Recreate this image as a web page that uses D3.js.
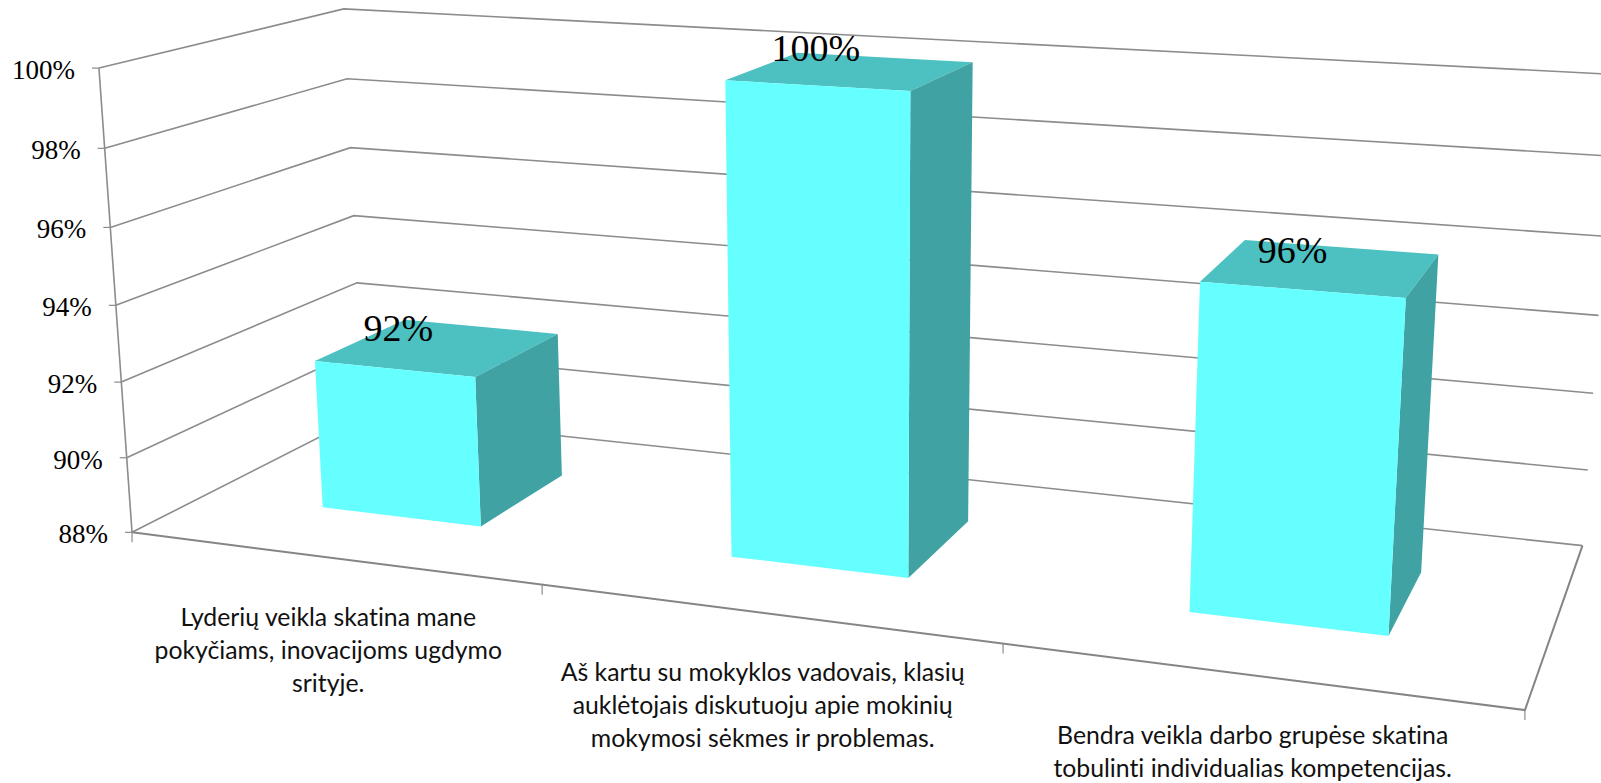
<!DOCTYPE html>
<html>
<head>
<meta charset="utf-8">
<script src="https://cdnjs.cloudflare.com/ajax/libs/d3/7.8.5/d3.min.js"></script>
<style>
    body { margin: 0; background: #fff; overflow: hidden; }
    svg { display: block; }
</style>
</head>
<body>
<script>
// Chart data
var categories = [
    ["Lyderių veikla skatina mane", "pokyčiams, inovacijoms ugdymo", "srityje."],
    ["Aš kartu su mokyklos vadovais, klasių", "auklėtojais diskutuoju apie mokinių", "mokymosi sėkmes ir problemas."],
    ["Bendra veikla darbo grupėse skatina", "tobulinti individualias kompetencijas."]
];
var values = [92, 100, 96];
var valueTicks = [88, 90, 92, 94, 96, 98, 100];

var width = 1601, height = 783;

// Box corners as seen in the picture: [along, depth, value, screenX, screenY]
var cameraRefs = [
    [0, 0, 88, 132, 532], [0, 1, 88, 363, 416], [1, 1, 88, 1582, 545], [1, 0, 88, 1526, 710],
    [0, 0, 100, 98, 69], [0, 1, 100, 344, 8], [1, 1, 100, 1615, 75],
    [0, 0, 94, 117, 305], [0, 1, 94, 354, 215], [1, 1, 94, 1599, 316],
    [1, 1, 92, 1593, 393], [1, 1, 90, 1588, 470],
    [1 / 3, 0, 88, 542, 585], [2 / 3, 0, 88, 1002, 643]
];

var wScale = d3.scaleLinear().domain([88, 100]).range([0, 1]);
var uBand = d3.scaleBand()
    .domain(d3.range(categories.length))
    .range([0, 1])
    .paddingInner(0.6)
    .paddingOuter(0.3);
var vFront = 0.30, vBack = 0.705;

// Least squares fit of the 3D -> screen projective matrix
var solve = function(A, b) {
    var n = b.length;
    for (var i = 0; i < n; i++) {
        var piv = i;
        for (var r = i + 1; r < n; r++) if (Math.abs(A[r][i]) > Math.abs(A[piv][i])) piv = r;
        var tA = A[i]; A[i] = A[piv]; A[piv] = tA;
        var tb = b[i]; b[i] = b[piv]; b[piv] = tb;
        for (r = i + 1; r < n; r++) {
            var f = A[r][i] / A[i][i];
            for (var c = i; c < n; c++) A[r][c] -= f * A[i][c];
            b[r] -= f * b[i];
        }
    }
    var out = new Array(n);
    for (i = n - 1; i >= 0; i--) {
        var s = b[i];
        for (c = i + 1; c < n; c++) s -= A[i][c] * out[c];
        out[i] = s / A[i][i];
    }
    return out;
};

var fitCamera = function(refs) {
    var N = d3.range(11).map(function() { return d3.range(11).map(function() { return 0; }); });
    var rhs = d3.range(11).map(function() { return 0; });
    var add = function(row, y) {
        for (var i = 0; i < 11; i++) {
            rhs[i] += row[i] * y;
            for (var j = 0; j < 11; j++) N[i][j] += row[i] * row[j];
        }
    };
    refs.forEach(function(r) {
        var u = r[0], v = r[1], w = wScale(r[2]), x = r[3], y = r[4];
        add([u, v, w, 1, 0, 0, 0, 0, -x * u, -x * v, -x * w], x);
        add([0, 0, 0, 0, u, v, w, 1, -y * u, -y * v, -y * w], y);
    });
    return solve(N, rhs);
};

var cam = fitCamera(cameraRefs);

var project = function(u, v, value) {
    var w = wScale(value);
    var d = cam[8] * u + cam[9] * v + cam[10] * w + 1;
    return [
        (cam[0] * u + cam[1] * v + cam[2] * w + cam[3]) / d,
        (cam[4] * u + cam[5] * v + cam[6] * w + cam[7]) / d
    ];
};

var svg = d3.select("body").append("svg")
    .attr("width", width)
    .attr("height", height);

var line = d3.line();
var axisColor = "#8c8c8c";

// Walls: one bent gridline per tick value
svg.append("g").selectAll("path")
    .data(valueTicks)
    .join("path")
    .attr("d", function(t) { return line([project(0, 0, t), project(0, 1, t), project(1, 1, t)]); })
    .attr("fill", "none")
    .attr("stroke", axisColor)
    .attr("stroke-width", 1.6);

// Value axis with ticks and labels
svg.append("path")
    .attr("d", line([project(0, 0, 88), project(0, 0, 100)]))
    .attr("fill", "none")
    .attr("stroke", axisColor)
    .attr("stroke-width", 1.6);

svg.append("g").selectAll("line")
    .data(valueTicks)
    .join("line")
    .attr("x1", function(t) { return project(0, 0, t)[0]; })
    .attr("x2", function(t) { return project(0, 0, t)[0] - 7; })
    .attr("y1", function(t) { return project(0, 0, t)[1]; })
    .attr("y2", function(t) { return project(0, 0, t)[1]; })
    .attr("stroke", axisColor)
    .attr("stroke-width", 1.2);

svg.append("g").selectAll("text")
    .data(valueTicks)
    .join("text")
    .attr("x", function(t) { return project(0, 0, t)[0] - 24; })
    .attr("y", function(t) { return project(0, 0, t)[1] + 11; })
    .attr("text-anchor", "end")
    .style("font", "27px 'Liberation Serif'")
    .attr("fill", "#000")
    .text(function(t) { return t + "%"; });

// Floor edges and category ticks
svg.append("path")
    .attr("d", line([project(0, 0, 88), project(1, 0, 88), project(1, 1, 88)]))
    .attr("fill", "none")
    .attr("stroke", "#858585")
    .attr("stroke-width", 2);

svg.append("g").selectAll("line")
    .data(d3.range(categories.length + 1))
    .join("line")
    .attr("x1", function(i) { return project(i / categories.length, 0, 88)[0]; })
    .attr("x2", function(i) { return project(i / categories.length, 0, 88)[0]; })
    .attr("y1", function(i) { return project(i / categories.length, 0, 88)[1]; })
    .attr("y2", function(i) { return project(i / categories.length, 0, 88)[1] + 10; })
    .attr("stroke", axisColor)
    .attr("stroke-width", 1.2);

// Bars, one group of three faces each
var bars = svg.append("g").selectAll("g")
    .data(values)
    .join("g");

var faces = [
    { fill: "#4dc1c1", pts: function(a, b, val) {
        return [project(a, vFront, val), project(b, vFront, val), project(b, vBack, val), project(a, vBack, val)];
    } },
    { fill: "#40a2a2", pts: function(a, b, val) {
        return [project(b, vFront, val), project(b, vBack, val), project(b, vBack, 88), project(b, vFront, 88)];
    } },
    { fill: "#66ffff", pts: function(a, b, val) {
        return [project(a, vFront, val), project(b, vFront, val), project(b, vFront, 88), project(a, vFront, 88)];
    } }
];

faces.forEach(function(face) {
    bars.append("path")
        .attr("d", function(val, i) {
            var a = uBand(i), b = a + uBand.bandwidth();
            return line(face.pts(a, b, val)) + "Z";
        })
        .attr("fill", face.fill);
});

// Data labels float above the front top edge, nudged by hand like in the original
var labelNudge = [[4, -1], [-1, 2], [-9, 0]];

svg.append("g").selectAll("text")
    .data(values)
    .join("text")
    .attr("x", function(val, i) { return project(uBand(i) + uBand.bandwidth() / 2, vFront, val)[0] + labelNudge[i][0]; })
    .attr("y", function(val, i) { return project(uBand(i) + uBand.bandwidth() / 2, vFront, val)[1] - 27 + labelNudge[i][1]; })
    .attr("text-anchor", "middle")
    .style("font", "38px 'Liberation Serif'")
    .attr("fill", "#000")
    .text(function(val) { return val + "%"; });

// Category labels under the front edge
var catGroups = svg.append("g").selectAll("text")
    .data(categories)
    .join("text")
    .attr("text-anchor", "middle")
    .style("font", "24.8px Lato")
    .style("font-variant-ligatures", "none")
    .attr("fill", "#111");

catGroups.selectAll("tspan")
    .data(function(lines, i) {
        return lines.map(function(s) { return { s: s, i: i }; });
    })
    .join("tspan")
    .attr("x", function(d) { return project((d.i + 0.5) / categories.length, 0, 88)[0] - 3; })
    .attr("y", function(d, k) { return project((d.i + 0.5) / categories.length, 0, 88)[1] + 68 + k * 33; })
    .text(function(d) { return d.s; });
</script>
</body>
</html>
